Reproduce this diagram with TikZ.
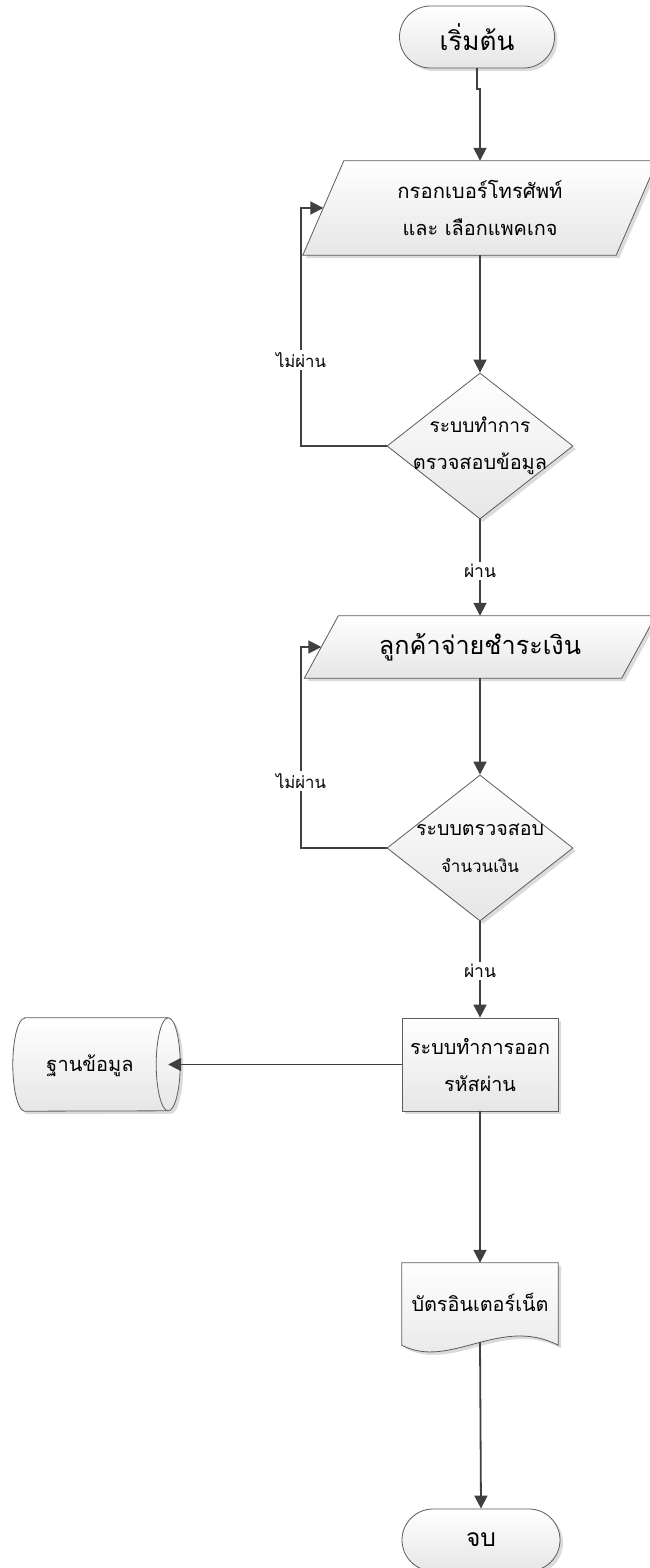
\documentclass[tikz,border=0pt]{standalone}
\usepackage{graphicx}
\usepackage{fontspec}
\setmainfont[Script=Thai]{Loma}
\usetikzlibrary{shapes.geometric,shapes.misc,arrows.meta,shadows,calc,backgrounds}

\definecolor{edgegray}{HTML}{5C5C5C}
\definecolor{wiregray}{HTML}{404040}
\definecolor{fillbottom}{HTML}{E6E6E6}
\definecolor{shadowgray}{HTML}{D2D2D2}

% one line of text set to a given width
\newcommand{\wline}[2]{\resizebox{#1pt}{!}{#2}}

\tikzset{
  shapefill/.style={draw=edgegray, line width=0.8pt, top color=white, bottom color=fillbottom,
    drop shadow={shadow xshift=3pt, shadow yshift=-3pt, fill=shadowgray, opacity=0.8}},
  txt/.style={font=\fontsize{21}{37}\selectfont, align=center, text=black},
  terminal/.style={shapefill, rounded rectangle, minimum height=62pt, inner sep=0pt, txt},
  process/.style={shapefill, rectangle, minimum width=156pt, minimum height=93pt, inner sep=0pt, txt},
  decision/.style={shapefill, diamond, minimum width=186pt, minimum height=146pt, inner sep=0pt},
  holder/.style={rectangle, draw=none, inner sep=0pt, txt},
  conn/.style={draw=wiregray, line width=1.8pt, -{Triangle[length=13pt,width=13pt]}},
  tag/.style={fill=white, inner sep=2pt, font=\fontsize{17}{20}\selectfont, text=black},
}

\begin{document}
\begin{tikzpicture}[x=1pt,y=-1pt]
\useasboundingbox (0,0) rectangle (650,1568);
\clip (0,0) rectangle (650,1568);

% terminals
\node[terminal, minimum width=155pt] (start) at (477,37) {\wline{75}{เริ่มต้น}};
\node[terminal, minimum width=158pt] (stop) at (481,1540) {\wline{30}{จบ}};

% input parallelograms: text holders spanning the mid-line width
\node[holder, minimum width=313pt, minimum height=94pt] (in1) at (480,208)
  {\wline{165}{กรอกเบอร์โทรศัพท์}\\\wline{155}{และ เลือกแพคเกจ}};
\node[holder, minimum width=317pt, minimum height=62pt] (in2) at (480,647)
  {\wline{202}{ลูกค้าจ่ายชำระเงิน}};

% decisions
\node[decision, label={[txt]center:\wline{101}{ระบบทำการ}\\\wline{134}{ตรวจสอบข้อมูล}}] (chk1) at (480,446) {};
\node[decision, label={[txt]center:\wline{128}{ระบบตรวจสอบ}\\\wline{78}{จำนวนเงิน}}] (chk2) at (480,848) {};

% process
\node[process] (gen) at (480,1064.5) {\wline{140}{ระบบทำการออก}\\\wline{72}{รหัสผ่าน}};

% document and database holders
\node[holder, minimum width=156pt, minimum height=82pt] (card) at (480,1304) {};
\node[holder, minimum width=143pt, minimum height=93pt] (db) at (96.5,1064.5) {};

\begin{pgfonlayer}{background}
  % parallelograms
  \path[shapefill] ($(in1.north west)+(20.5,0)$) -- ($(in1.north east)+(20.5,0)$)
    -- ($(in1.south east)+(-20.5,0)$) -- ($(in1.south west)+(-20.5,0)$) -- cycle;
  \path[shapefill] ($(in2.north west)+(17,0)$) -- ($(in2.north east)+(17,0)$)
    -- ($(in2.south east)+(-17,0)$) -- ($(in2.south west)+(-17,0)$) -- cycle;
  % document with wavy bottom
  \path[shapefill] (card.north west) -- (card.north east) -- (card.south east)
    .. controls +(-58,-30) and +(48,25) .. (card.south west) -- cycle;
  % horizontal storage cylinder
  \path[shapefill] (db.north west) -- (db.north east) arc (-90:90:12 and 46.5)
    -- (db.south west) arc (90:270:12 and 46.5) -- cycle;
  \draw[edgegray, line width=0.8pt] (db.north east) arc (270:90:12 and 46.5);
\end{pgfonlayer}

% texts of document and database
\node[txt] (cardtext) at (480,1302) {\wline{137}{บัตรอินเตอร์เน็ต}};
\node[txt] (dbtext) at (90,1066) {\wline{87}{ฐานข้อมูล}};

% loop coordinates and document outlet
\coordinate (loopx) at (301,0);
\coordinate (cardout) at (480,1342);

% connectors
\draw[conn] (start.south) -- ++(0,21) coordinate (jog) -- (jog -| in1.north) -- (in1.north);
\draw[conn] (in1.south) -- (chk1.north);
\draw[conn] (chk1.west) -- (chk1.west -| loopx) -- (loopx |- in1.west) -- (in1.west);
\draw[conn] (chk1.south) -- (in2.north);
\draw[conn] (chk2.west) -- (chk2.west -| loopx) -- (loopx |- in2.west) -- (in2.west);
\draw[conn] (in2.south) -- (chk2.north);
\draw[conn] (chk2.south) -- (gen.north);
\draw[conn] (gen.west) -- (db.east);
\draw[conn] (gen.south) -- (card.north);
\draw[conn] (cardout) -- (stop.north);

% connector labels
\node[tag] (fail1) at (301,360) {\wline{50}{ไม่ผ่าน}};
\node[tag] (fail2) at (301,781) {\wline{50}{ไม่ผ่าน}};
\node[tag] (pass1) at (480,571) {\wline{32}{ผ่าน}};
\node[tag] (pass2) at (480,971) {\wline{32}{ผ่าน}};
\end{tikzpicture}
\end{document}
